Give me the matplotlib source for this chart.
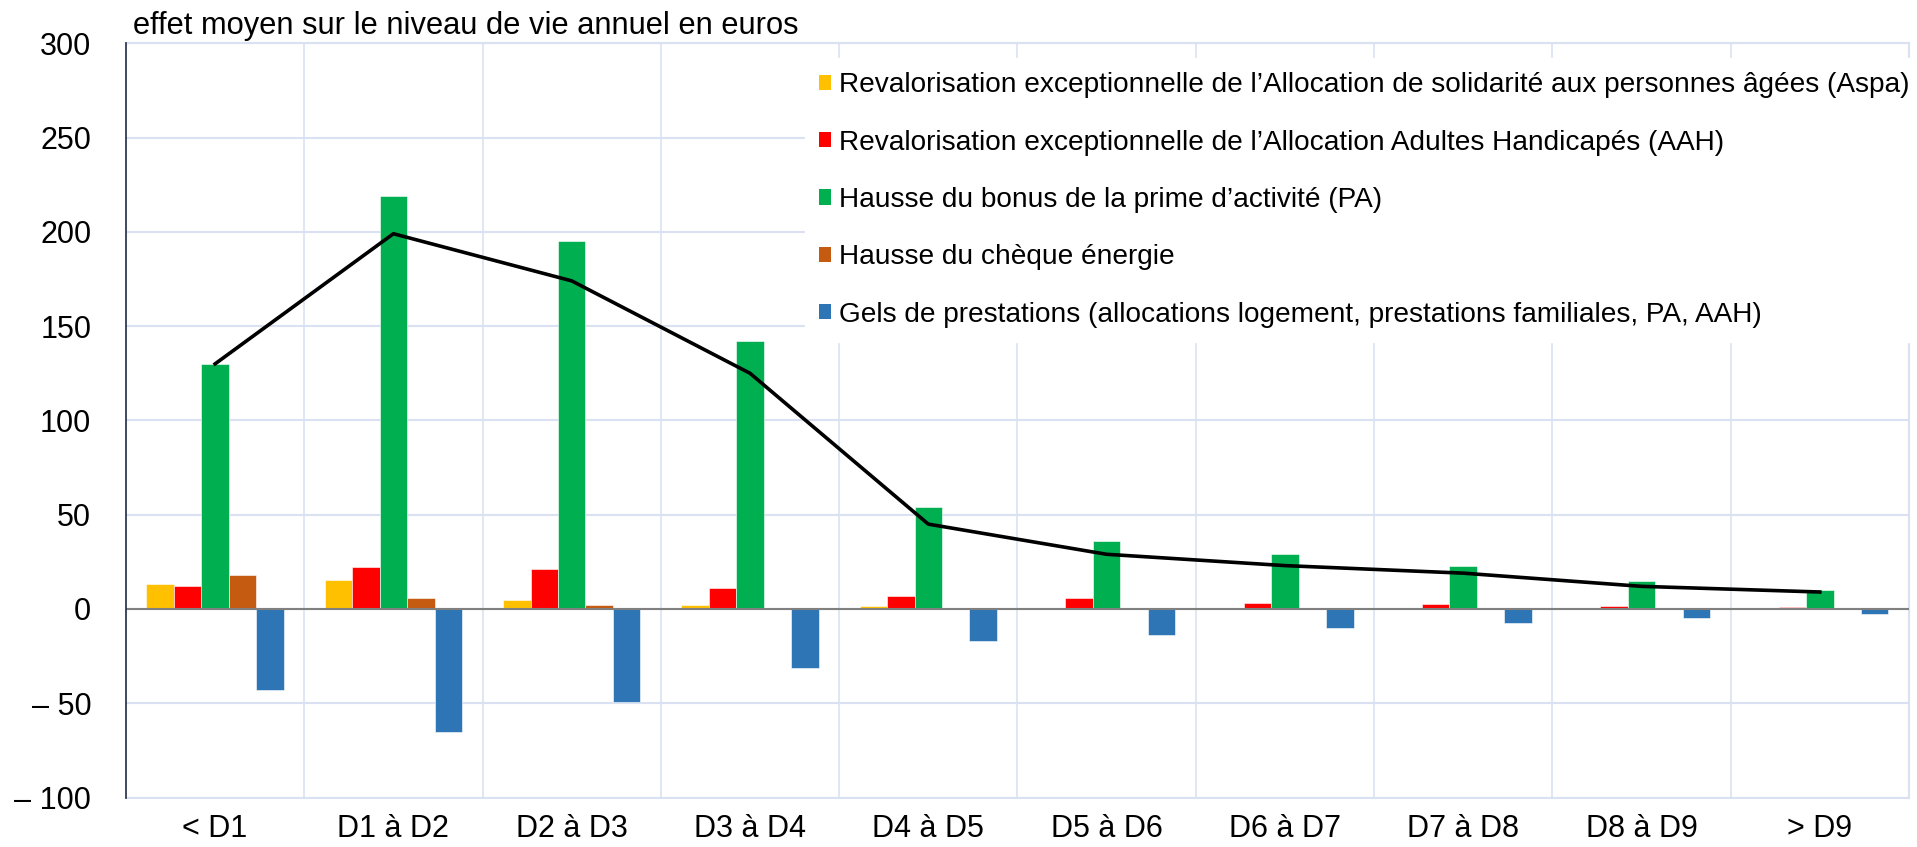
import matplotlib
matplotlib.use("Agg")
import matplotlib.pyplot as plt
from matplotlib.patches import Patch
import numpy as np

plt.rcParams['font.family'] = ['Liberation Sans', 'DejaVu Sans']

categories = ["< D1", "D1 à D2", "D2 à D3", "D3 à D4", "D4 à D5",
              "D5 à D6", "D6 à D7", "D7 à D8", "D8 à D9", "> D9"]
aspa = [13, 15.5, 5, 2, 1.4, 0.5, 0.3, 0.2, 0.1, 0.1]
aah = [12, 22.5, 21, 11, 7, 6, 3, 2.5, 1.6, 1.3]
prime_activite = [130, 219, 195, 142, 54, 36, 29, 23, 15, 10]
cheque_energie = [18, 6, 2, 0.5, 0.3, 0.2, 0.1, 0.1, 0.1, 0.1]
gels = [-43, -65.5, -49.5, -31.5, -17, -14, -10, -7.5, -5, -2.5]
total = [130, 199, 174, 125, 45, 29, 23, 19, 12, 9]

labels = [
    "Revalorisation exceptionnelle de l\u2019Allocation de solidarité aux personnes âgées (Aspa)",
    "Revalorisation exceptionnelle de l\u2019Allocation Adultes Handicapés (AAH)",
    "Hausse du bonus de la prime d\u2019activité (PA)",
    "Hausse du chèque énergie",
    "Gels de prestations (allocations logement, prestations familiales, PA, AAH)",
]
colors = ["#FFC000", "#FF0000", "#00B050", "#C55A11", "#2E75B6"]
yticks = [-100, -50, 0, 50, 100, 150, 200, 250, 300]
ytick_labels = ["\u2013 100", "\u2013 50", "0", "50", "100", "150", "200", "250", "300"]

fig = plt.figure(figsize=(19.17, 8.47), dpi=100)
ax = fig.add_axes([0.0657, 0.0584, 0.9301, 0.8905])

grid_c = "#D9E1F2"
x = np.arange(len(categories))
w = 0.154
series = [aspa, aah, prime_activite, cheque_energie, gels]
for i, (vals, c) in enumerate(zip(series, colors)):
    ax.bar(x + (i - 2) * w, vals, width=w, color=c, edgecolor="white",
           linewidth=0.4, zorder=3)

ax.axhline(0, color="#808080", linewidth=1.5, zorder=4)
ax.plot(x, total, color="black", linewidth=2.6, zorder=5)

ax.set_xlim(-0.5, len(categories) - 0.5)
ax.set_ylim(-100, 300)
ax.set_yticks(yticks)
ax.set_yticklabels(ytick_labels)
ax.set_xticks(x)
ax.set_xticklabels(categories)
ax.set_xticks(np.arange(0.5, len(categories)), minor=True)
ax.yaxis.grid(True, color=grid_c, linewidth=1.5, zorder=0)
ax.xaxis.grid(True, which="minor", color=grid_c, linewidth=1.2, zorder=0)
ax.xaxis.grid(False, which="major")
ax.tick_params(axis="both", which="both", length=0, labelsize=22)
ax.tick_params(axis="y", pad=25)
ax.tick_params(axis="x", pad=12)

for s in ["top", "right", "bottom"]:
    ax.spines[s].set_color(grid_c)
    ax.spines[s].set_linewidth(1.5)
ax.spines["left"].set_color("#1F2A44")
ax.spines["left"].set_linewidth(1.2)
ax.spines["left"].set_zorder(6)

handles = [Patch(facecolor=c, edgecolor="none") for c in colors]
leg = ax.legend(handles, labels, loc="upper right", bbox_to_anchor=(1.008, 0.980),
                fontsize=20.2, frameon=True, fancybox=False, framealpha=1,
                edgecolor="white", handlelength=0.42, handleheight=0.45,
                handletextpad=0.28, labelspacing=1.115, borderpad=0.5,
                borderaxespad=0.0)
leg.set_zorder(10)

fig.text(0.0694, 0.9604, "effet moyen sur le niveau de vie annuel en euros",
         fontsize=22.2, va="baseline", ha="left")

fig.savefig("out.png", dpi=100)
